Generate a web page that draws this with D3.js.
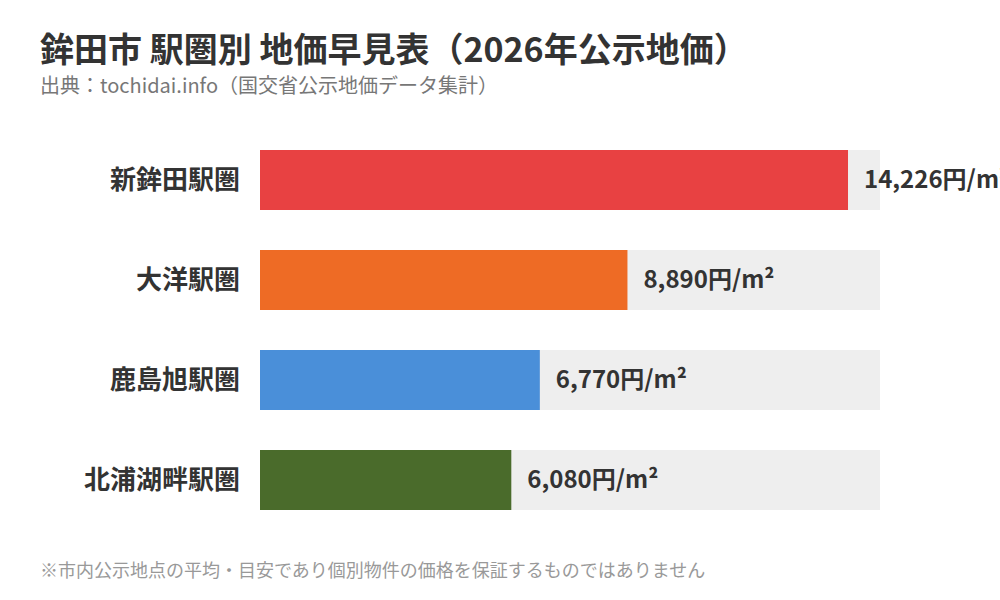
<!DOCTYPE html>
<html>
<head>
<meta charset="utf-8">
<script src="https://cdn.jsdelivr.net/npm/d3@7"></script>
<style>
    body { margin: 0; background: #fff; }
    svg { display: block; font-family: "Noto Sans CJK JP", "Noto Sans", sans-serif; }
</style>
</head>
<body>
<div class="chart"></div>
<script>
const width = 1000, height = 600;

// data
const stations = ['新鉾田駅圏', '大洋駅圏', '鹿島旭駅圏', '北浦湖畔駅圏'];
const prices = [14226, 8890, 6770, 6080];
const colors = ['#e84142', '#ee6b25', '#4a8fd9', '#4a6b2b'];
const price_max = 15000;

let padding = {'left': 260, 'right': 120, 'top': 130, 'bottom': 80};

let svg = d3.select('.chart')
    .append('svg')
    .attr('width', width)
    .attr('height', height);

// title
svg.append('text')
    .attr('x', 40)
    .attr('y', 62)
    .attr('font-size', '34px')
    .attr('font-weight', 'bold')
    .attr('fill', '#333')
    .text('鉾田市 駅圏別 地価早見表（2026年公示地価）');

svg.append('text')
    .attr('x', 40)
    .attr('y', 93)
    .attr('font-size', '20px')
    .attr('fill', '#777')
    .text('出典：tochidai.info（国交省公示地価データ集計）');

let x = d3.scaleLinear()
    .domain([0, price_max])
    .range([padding.left, width - padding.right]);

let y = d3.scaleBand()
    .domain(stations)
    .range([padding.top, padding.top + 400])
    .paddingInner(0.4)
    .paddingOuter(0.2);

let rows = svg.append('g')
    .selectAll('g')
    .data(stations)
    .enter().append('g');

// background track
rows.append('rect')
    .attr('x', x(0))
    .attr('y', d => y(d))
    .attr('width', x(price_max) - x(0))
    .attr('height', y.bandwidth())
    .attr('fill', '#eeeeee');

// bars
rows.append('rect')
    .attr('x', x(0))
    .attr('y', d => y(d))
    .attr('width', (d, i) => x(prices[i]) - x(0))
    .attr('height', y.bandwidth())
    .attr('fill', (d, i) => colors[i]);

// station labels
rows.append('text')
    .attr('x', x(0) - 20)
    .attr('y', d => y(d) + y.bandwidth() / 2)
    .attr('dy', '0.35em')
    .attr('text-anchor', 'end')
    .attr('font-size', '26px')
    .attr('font-weight', 'bold')
    .attr('fill', '#333')
    .text(d => d);

// value labels (the first one runs off the right edge, as in the original)
rows.append('text')
    .attr('x', (d, i) => x(prices[i]) + 16)
    .attr('y', d => y(d) + y.bandwidth() / 2)
    .attr('dy', '0.35em')
    .attr('font-size', '24px')
    .attr('font-weight', 'bold')
    .attr('fill', '#333')
    .text((d, i) => d3.format(',')(prices[i]) + '円/m²');

// footnote
svg.append('text')
    .attr('x', 40)
    .attr('y', 577)
    .attr('font-size', '18px')
    .attr('fill', '#999')
    .text('※市内公示地点の平均・目安であり個別物件の価格を保証するものではありません');
</script>
</body>
</html>
